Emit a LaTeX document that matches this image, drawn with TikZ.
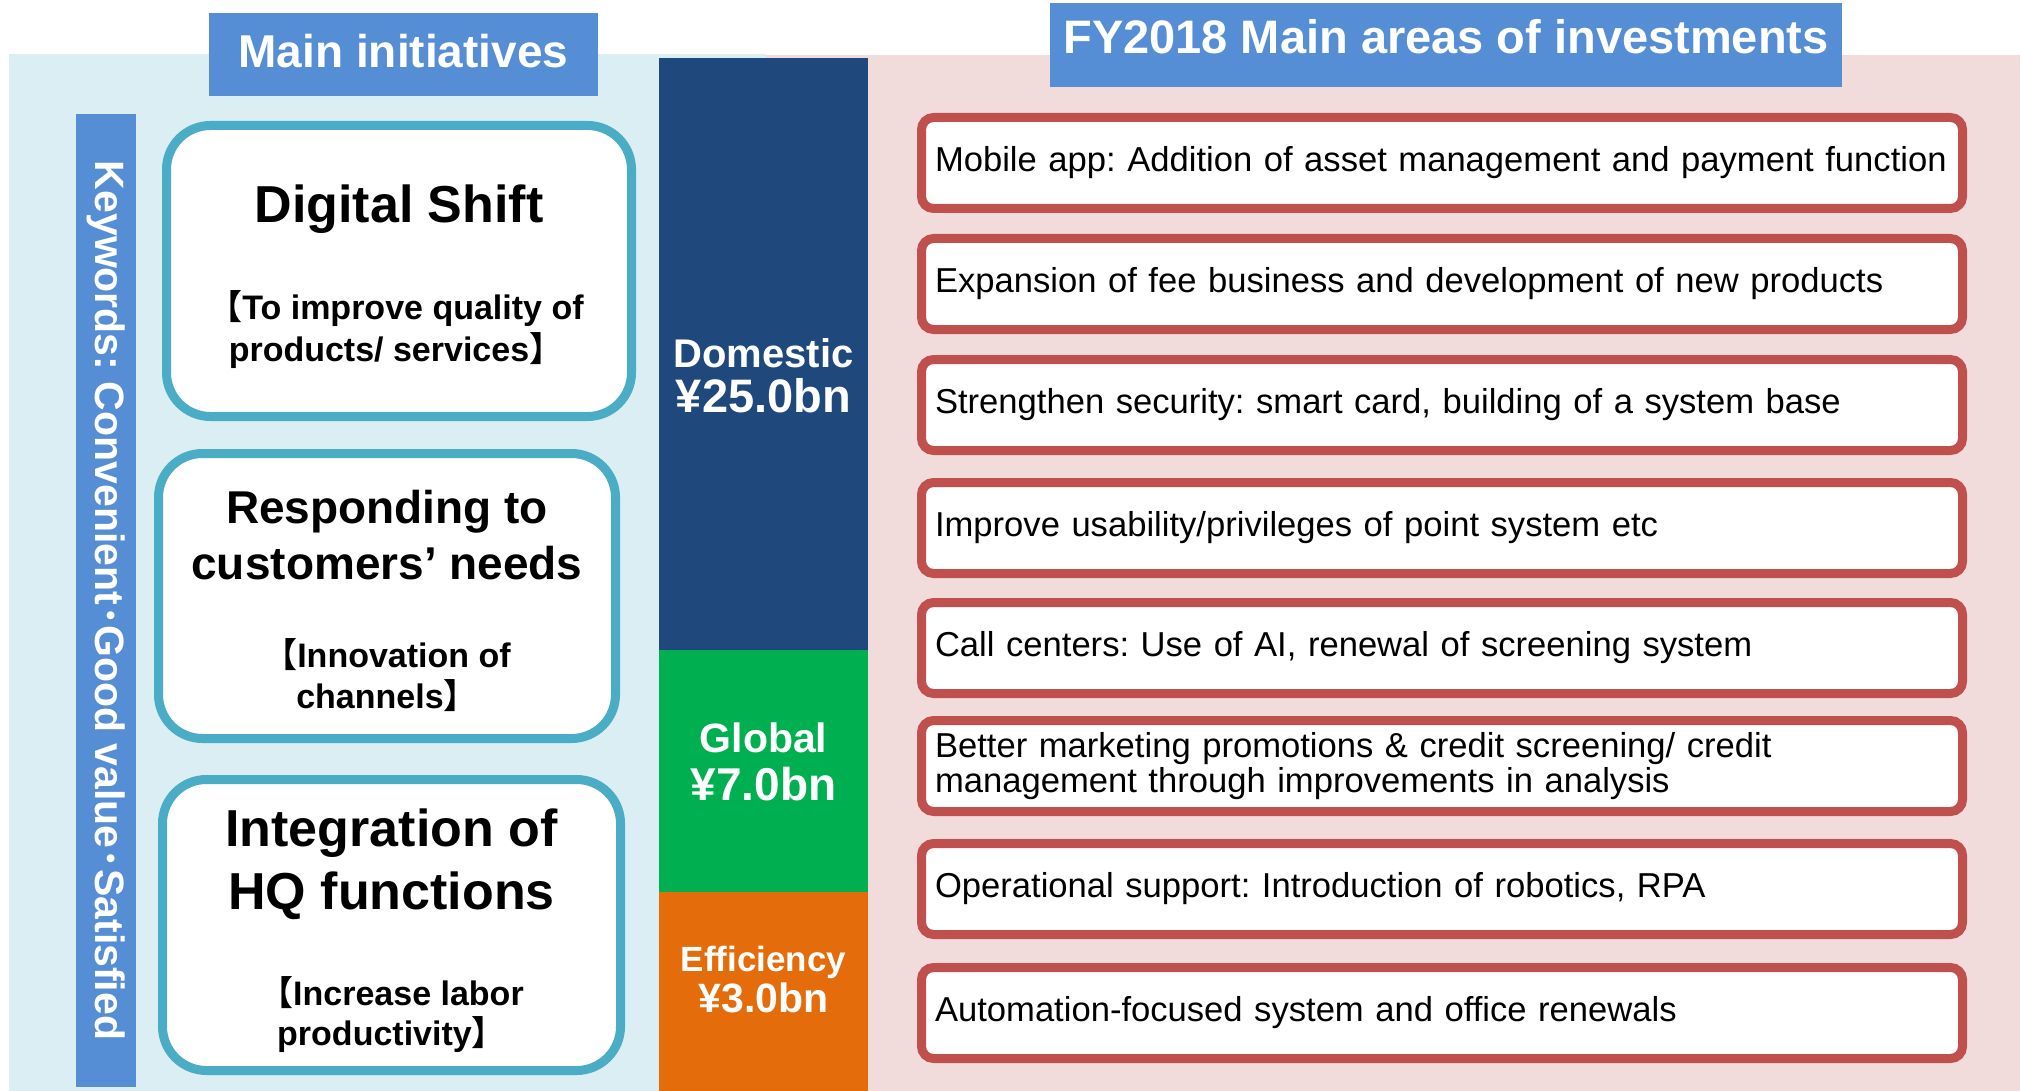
\documentclass[tikz,border=0pt]{standalone}
\usepackage{fontspec}
\setmainfont{Liberation Sans}
\newfontfamily\cjk{Noto Sans CJK JP}[BoldFont={Noto Sans CJK JP Bold}]
\usepackage{xcolor}
\usetikzlibrary{positioning}
\definecolor{hdrblue}{HTML}{558ED5}
\definecolor{lightpanel}{HTML}{DAEEF3}
\definecolor{pinkpanel}{HTML}{F2DCDB}
\definecolor{tealline}{HTML}{4BACC6}
\definecolor{redline}{HTML}{C0504D}
\definecolor{navybar}{HTML}{1F497D}
\definecolor{greenbar}{HTML}{00B050}
\definecolor{orangebar}{HTML}{E46C0A}
\newcommand{\sz}[2]{\fontsize{#1}{#2}\selectfont}
\newcommand{\lbr}{{\cjk 【}}
\newcommand{\rbr}{{\cjk 】}}
\newcommand{\kdot}{{\cjk ･}}
\frenchspacing
\hyphenpenalty=10000

\begin{document}
\begin{tikzpicture}[x=0.5pt,y=-0.5pt,
  header/.style={fill=hdrblue,text=white,inner sep=0pt,font=\bfseries\sz{23pt}{28pt}},
  initbox/.style={draw=tealline,line width=4.5pt,fill=white,rounded corners=22pt,inner sep=0pt},
  areabox/.style={draw=redline,line width=4.5pt,fill=white,rounded corners=6pt,minimum height=45.5pt,
    text width=507pt,inner xsep=6.75pt,align=left,font=\sz{17.3pt}{17.5pt}},
  amount/.style={text=white,anchor=base}]
\useasboundingbox (0,0) rectangle (2022,1091);
\fill[lightpanel] (9,54) rectangle (766,1091);
\fill[pinkpanel] (766,55) rectangle (2020,1091);
\fill[navybar] (659,58) rectangle (868,650);
\fill[greenbar] (659,650) rectangle (868,892);
\fill[orangebar] (659,892) rectangle (868,1091);

\node[header,minimum width=194.5pt,minimum height=41.5pt,text depth=4pt] (mainInit) at (403.5,54.5) {Main initiatives};
\node[header,minimum width=396pt,minimum height=42pt,text depth=9pt,font=\bfseries\sz{23.5pt}{28pt}] (invAreas) at (1446,45) {FY2018 Main areas of investments};

\node[fill=hdrblue,rotate=-90,minimum width=486.5pt,minimum height=30pt,inner sep=0pt,text=white,font=\bfseries\sz{20.5pt}{21pt}] (keywords) at (106,600.5) {Keywords: Convenient\kdot Good value\kdot Satisfied};

% initiatives
\node[initbox,minimum width=232.5pt,minimum height=145.5pt] (digital) at (399,271) {};
\node[initbox,minimum width=228.5pt,minimum height=142.5pt] (respond) at (387,596) {};
\node[initbox,minimum width=229pt,minimum height=145.5pt] (hq) at (391.5,925) {};
\node[anchor=base,font=\bfseries\sz{26pt}{31pt}] (digitalT) at (399,223) {Digital Shift};
\node[align=center,font=\bfseries\sz{17pt}{21pt}] (digitalS) at (396,330) {\lbr To improve quality of\\products/ services\rbr};
\node[align=center,font=\bfseries\sz{23pt}{28pt}] (respondT) at (387,535) {Responding to\\customers’ needs};
\node[align=center,font=\bfseries\sz{17pt}{20.5pt}] (respondS) at (387,675) {\lbr Innovation of\\channels\rbr};
\node[align=center,font=\bfseries\sz{26pt}{31.5pt}] (hqT) at (391.5,864) {Integration of\\HQ functions};
\node[align=center,font=\bfseries\sz{17pt}{20pt}] (hqS) at (391.5,1015) {\lbr Increase labor\\productivity\rbr};

% budget split
\node[amount,font=\bfseries\sz{20pt}{24pt}] (domL) at (763.5,367) {Domestic};
\node[amount,font=\bfseries\sz{23.5pt}{28pt}] (domV) at (763.5,412) {¥25.0bn};
\node[amount,font=\bfseries\sz{20.5pt}{24pt}] (gloL) at (763.5,752) {Global};
\node[amount,font=\bfseries\sz{23pt}{28pt}] (gloV) at (763.5,800) {¥7.0bn};
\node[amount,font=\bfseries\sz{17.5pt}{21pt}] (effL) at (763.5,971) {Efficiency};
\node[amount,font=\bfseries\sz{20.5pt}{24pt}] (effV) at (763.5,1012) {¥3.0bn};

% investment areas
\foreach \y/\t [count=\i] in {163/{Mobile app: Addition of asset management and payment function},
  284/{Expansion of fee business and development of new products},
  405/{Strengthen security: smart card, building of a system base},
  528/{Improve usability/privileges of point system etc},
  648/{Call centers: Use of AI, renewal of screening system},
  766/{Better marketing promotions \& credit screening/ credit\\management through improvements in analysis},
  889/{Operational support: Introduction of robotics, RPA},
  1013/{Automation-focused system and office renewals}}
  \node[areabox] (area\i) at (1442,\y) {\t};
\end{tikzpicture}
\end{document}
